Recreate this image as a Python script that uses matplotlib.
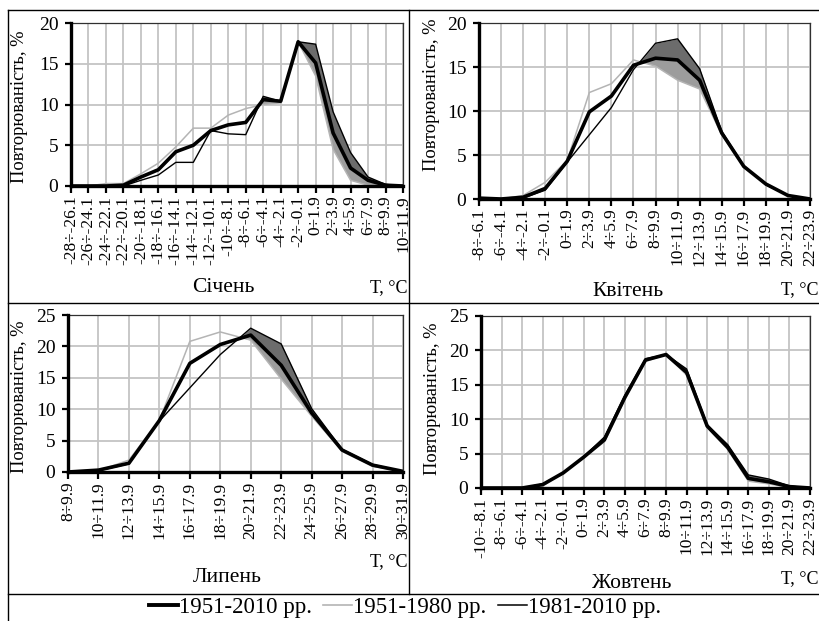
import matplotlib
matplotlib.use("Agg")
import matplotlib.pyplot as plt
from matplotlib.lines import Line2D
import numpy as np

plt.rcParams['font.family'] = ['Liberation Serif', 'DejaVu Serif']

# ---------------- data ----------------
jan_cats = ['-28÷-26.1', '-26÷-24.1', '-24÷-22.1', '-22÷-20.1', '-20÷-18.1', '-18÷-16.1',
            '-16÷-14.1', '-14÷-12.1', '-12÷-10.1', '-10÷-8.1', '-8÷-6.1', '-6÷-4.1',
            '-4÷-2.1', '-2÷-0.1', '0÷1.9', '2÷3.9', '4÷5.9', '6÷7.9', '8÷9.9', '10÷11.9']
jan_all = [0, 0, 0, 0.1, 1.1, 2.0, 4.2, 5.0, 6.8, 7.5, 7.8, 10.6, 10.4, 17.7, 15.1, 6.5, 2.2, 0.7, 0.1, 0]
jan_old = [0, 0, 0.3, 0.3, 1.5, 2.8, 4.8, 7.1, 7.1, 8.7, 9.5, 10.0, 10.2, 17.7, 13.5, 4.5, 0.7, 0.1, 0, 0]
jan_new = [0, 0, 0, 0, 0.7, 1.35, 2.9, 2.9, 6.8, 6.4, 6.3, 11.0, 10.4, 17.7, 17.4, 9.1, 4.1, 1.1, 0.2, 0]

apr_cats = ['-8÷-6.1', '-6÷-4.1', '-4÷-2.1', '-2÷-0.1', '0÷1.9', '2÷3.9', '4÷5.9', '6÷7.9',
            '8÷9.9', '10÷11.9', '12÷13.9', '14÷15.9', '16÷17.9', '18÷19.9', '20÷21.9', '22÷23.9']
apr_all = [0.1, 0, 0.2, 1.2, 4.3, 9.9, 11.7, 15.2, 16.0, 15.8, 13.5, 7.5, 3.7, 1.7, 0.4, 0]
apr_old = [0, 0, 0.4, 1.9, 4.4, 12.1, 13.1, 15.8, 15.1, 13.5, 12.5, 7.3, 3.6, 1.8, 0.4, 0]
apr_new = [0.1, 0, 0.1, 1.0, 4.2, 7.3, 10.4, 14.7, 17.7, 18.2, 14.8, 7.7, 3.8, 1.6, 0.4, 0]

jul_cats = ['8÷9.9', '10÷11.9', '12÷13.9', '14÷15.9', '16÷17.9', '18÷19.9', '20÷21.9',
            '22÷23.9', '24÷25.9', '26÷27.9', '28÷29.9', '30÷31.9']
jul_all = [0, 0.3, 1.4, 8.2, 17.3, 20.3, 21.8, 17.0, 9.4, 3.5, 1.1, 0.1]
jul_old = [0, 0.2, 1.9, 8.2, 20.8, 22.3, 21.0, 14.8, 8.9, 3.3, 0.9, 0.1]
jul_new = [0, 0.2, 1.3, 8.1, 13.4, 18.7, 22.9, 20.4, 10.1, 3.6, 1.2, 0.1]

oct_cats = ['-10÷-8.1', '-8÷-6.1', '-6÷-4.1', '-4÷-2.1', '-2÷-0.1', '0÷1.9', '2÷3.9', '4÷5.9',
            '6÷7.9', '8÷9.9', '10÷11.9', '12÷13.9', '14÷15.9', '16÷17.9', '18÷19.9', '20÷21.9',
            '22÷23.9']
oct_all = [0, 0, 0, 0.5, 2.2, 4.5, 7.0, 13.2, 18.6, 19.4, 16.8, 9.0, 5.9, 1.4, 0.9, 0.2, 0]
oct_old = [0, 0, 0.1, 0.3, 2.2, 4.5, 6.7, 12.9, 18.4, 19.4, 16.4, 8.8, 5.6, 1.0, 0.6, 0.1, 0]
oct_new = [0, 0, 0, 0.6, 2.2, 4.6, 7.4, 13.5, 18.8, 19.4, 17.3, 9.2, 6.3, 1.9, 1.3, 0.3, 0]

months = ['Січень', 'Квітень', 'Липень', 'Жовтень']
ylabel = 'Повторюваність, %'
xunit = 'Т, °С'
series_labels = ['1951-2010 рр.', '1951-1980 рр.', '1981-2010 рр.']

# ---------------- figure ----------------
W, H = 820, 621
fig = plt.figure(figsize=(W / 100, H / 100), dpi=100)
fig.patch.set_facecolor('white')

def fx(px):
    return px / W

def fy(py):
    return 1 - py / H

# axes rectangles in pixels: left, top, right, bottom
rects = [(71, 23, 403, 186), (479, 23, 810, 199), (68, 315, 403, 472), (481, 316, 810, 488)]
ymaxes = [20, 20, 25, 25]
panels = [(jan_cats, jan_all, jan_old, jan_new),
          (apr_cats, apr_all, apr_old, apr_new),
          (jul_cats, jul_all, jul_old, jul_new),
          (oct_cats, oct_all, oct_old, oct_new)]

dark = '#6c6c6c'
lightfill = '#9c9c9c'
oldc = '#b4b4b4'

for (l, t, r, b), ymax, (cats, s_all, s_old, s_new) in zip(rects, ymaxes, panels):
    ax = fig.add_axes([fx(l), fy(b), fx(r - l), (b - t) / H])
    x = np.arange(len(cats))
    a = np.array(s_all, dtype=float)
    o = np.array(s_old, dtype=float)
    n = np.array(s_new, dtype=float)
    warm = n > o
    ax.fill_between(x, a, n, where=warm & (n > a), interpolate=True, color=dark, lw=0, zorder=2)
    ax.fill_between(x, o, a, where=warm & (a > o), interpolate=True, color=lightfill, lw=0, zorder=2)
    ax.plot(x, o, color=oldc, lw=1.1, zorder=3)
    ax.plot(x, n, color='black', lw=1.0, zorder=4)
    ax.plot(x, a, color='black', lw=2.6, zorder=5)

    ax.set_xlim(0, len(cats) - 1)
    ax.set_ylim(0, ymax)
    ax.set_xticks(x)
    ax.set_xticklabels(cats, rotation=90, fontsize=12.5)
    ax.set_yticks(np.arange(0, ymax + 1, 5))
    ax.tick_params(axis='y', labelsize=14, length=4, width=1.6, pad=5, direction='out')
    ax.tick_params(axis='x', length=5, width=1.6, pad=2, direction='out')
    ax.grid(True, color='#c4c4c4', lw=1.3, zorder=0)
    ax.set_axisbelow(True)
    for side in ('left', 'bottom'):
        ax.spines[side].set_linewidth(2.4)
        ax.spines[side].set_color('black')
        ax.spines[side].set_zorder(6)
    for side in ('top', 'right'):
        ax.spines[side].set_linewidth(0.9)
        ax.spines[side].set_color('#303030')

# axis titles and month labels
ylab_pos = [(20, 107), (432, 95), (20, 397), (433, 399)]
for (px, py) in ylab_pos:
    fig.text(fx(px), fy(py), ylabel, rotation=90, ha='center', va='center', fontsize=13.3)

month_pos = [(223, 287), (628, 291), (227, 578), (632, 583)]
for m, (px, py) in zip(months, month_pos):
    fig.text(fx(px), fy(py), m, ha='center', va='center', fontsize=15.5)

unit_pos = [(408, 288), (819, 290), (408, 562), (819, 579)]
for (px, py) in unit_pos:
    fig.text(fx(px), fy(py), xunit, ha='right', va='center', fontsize=13)

# frame lines
def hline(y, x0, x1):
    fig.add_artist(Line2D([fx(x0), fx(x1)], [fy(y), fy(y)], color='black', lw=1.0, transform=fig.transFigure))

def vline(x, y0, y1):
    fig.add_artist(Line2D([fx(x), fx(x)], [fy(y0), fy(y1)], color='black', lw=1.0, transform=fig.transFigure))

hline(10, 8, 820)
hline(303, 8, 820)
hline(594, 8, 820)
vline(8, 10, 621)
vline(409, 10, 594)

# legend
handles = [Line2D([], [], color='black', lw=2.8),
           Line2D([], [], color=oldc, lw=1.2),
           Line2D([], [], color='black', lw=1.1)]
fig.legend(handles, series_labels, loc='center', bbox_to_anchor=(fx(405), fy(607)), ncol=3,
           frameon=False, fontsize=16.5, handlelength=1.25, handletextpad=0.05, columnspacing=0.5,
           borderpad=0, borderaxespad=0)

fig.savefig('out.png', dpi=100, facecolor='white')
